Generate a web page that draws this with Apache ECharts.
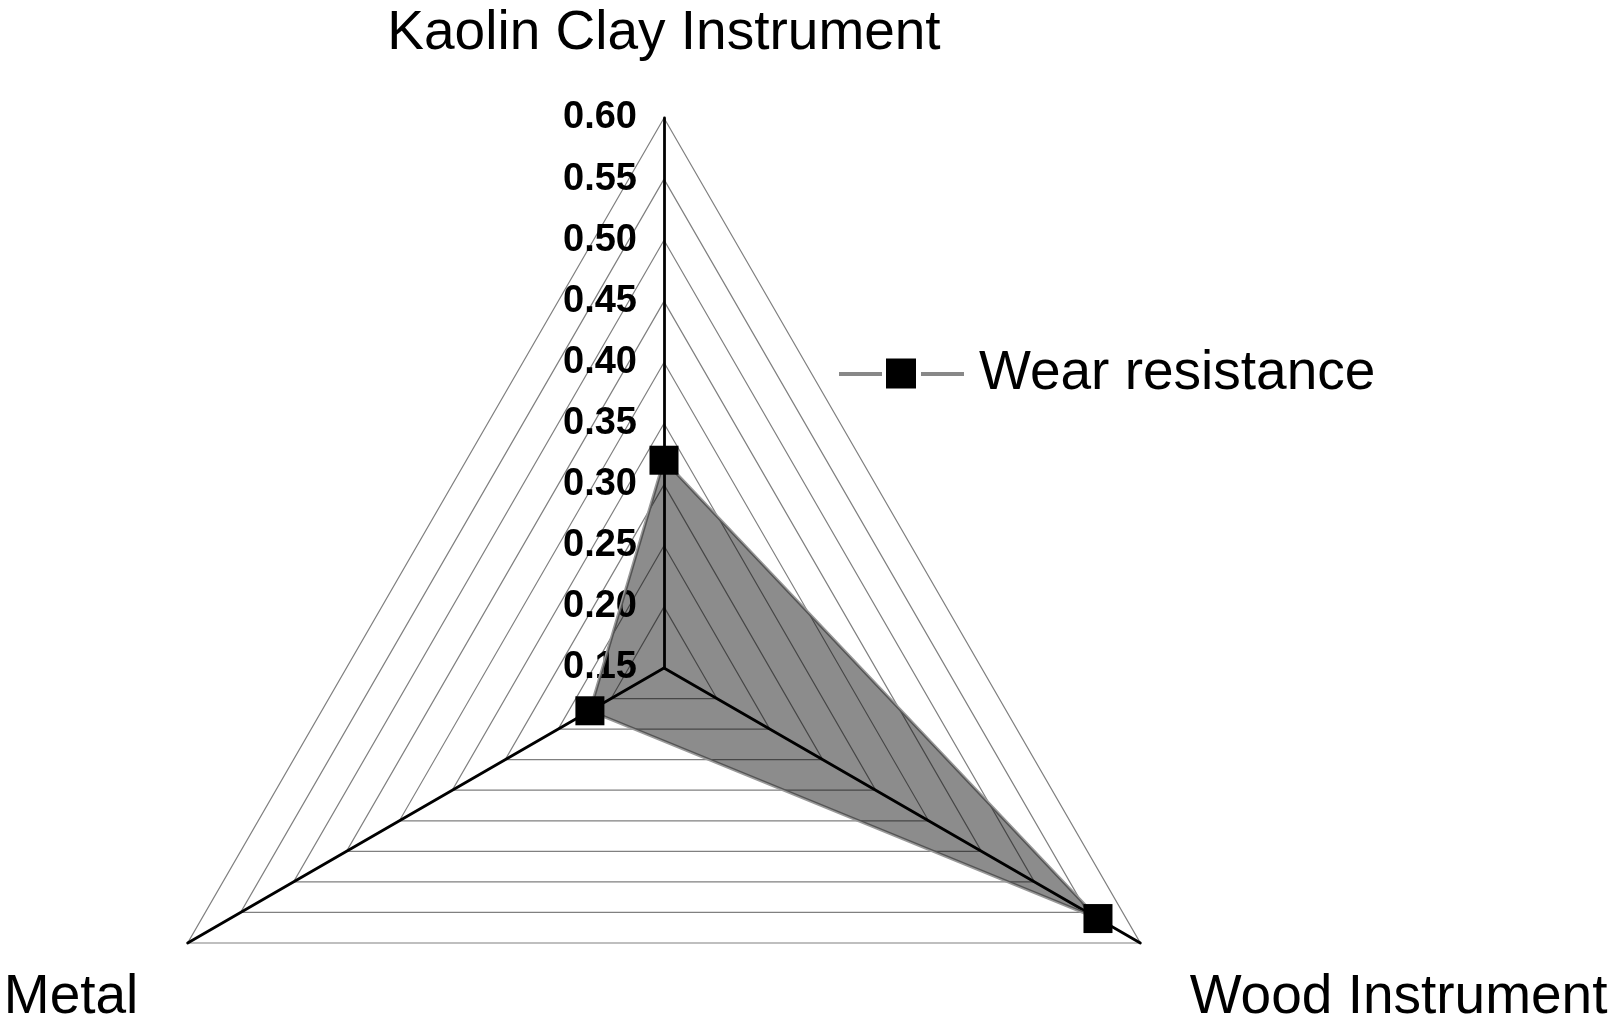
<!DOCTYPE html>
<html>
<head>
<meta charset="utf-8">
<script src="https://cdn.jsdelivr.net/npm/echarts@6/dist/echarts.min.js"></script>
<style>
html,body{margin:0;padding:0;background:#fff;}
#chart{width:1614px;height:1030px;}
</style>
</head>
<body>
<div id="chart"></div>
<script>
var categories = ['Kaolin Clay Instrument', 'Metal', 'Wood Instrument'];
var seriesName = 'Wear resistance';
var wearValues = [0.32, 0.22, 0.56];
var axisMin = 0.15;
var axisMax = 0.60;
var axisStep = 0.05;

var chart = echarts.init(document.getElementById('chart'));
var FONT = 'Liberation Sans, Arial, sans-serif';

var option = {
  backgroundColor: '#ffffff',
  animation: false,
  legend: {
    data: [seriesName],
    left: 881,
    top: 341,
    icon: 'rect',
    itemWidth: 30,
    itemHeight: 30,
    textStyle: {
      fontFamily: FONT,
      fontSize: 55,
      color: '#000',
      padding: [0, 0, 0, 58]
    }
  },
  graphic: [
    {type: 'line', shape: {x1: 839, y1: 374, x2: 882, y2: 374}, style: {stroke: '#888', lineWidth: 4}},
    {type: 'line', shape: {x1: 921, y1: 374, x2: 964, y2: 374}, style: {stroke: '#888', lineWidth: 4}}
  ],
  radar: {
    center: [664, 668],
    radius: 550,
    shape: 'polygon',
    startAngle: 90,
    splitNumber: Math.round((axisMax - axisMin) / axisStep),
    nameGap: 57,
    axisName: {
      color: '#000',
      fontFamily: FONT,
      fontSize: 55,
      formatter: function (name) {
        return name === categories[0] ? '{t|' + name + '}' : '{b|' + name + '}';
      },
      rich: {
        t: {fontFamily: FONT, fontSize: 55, color: '#000'},
        b: {fontFamily: FONT, fontSize: 55, color: '#000', padding: [52, 0, 0, 0]}
      }
    },
    indicator: categories.map(function (c, i) {
      var ind = {name: c, min: axisMin, max: axisMax};
      if (i !== 0) ind.axisLabel = {show: false};
      return ind;
    }),
    axisLine: {lineStyle: {color: '#000', width: 2.8}},
    axisTick: {show: false},
    splitLine: {lineStyle: {color: '#808080', width: 1.2}},
    splitArea: {show: false},
    axisLabel: {
      show: true,
      margin: 27,
      fontFamily: FONT,
      fontSize: 38,
      fontWeight: 'bold',
      color: '#000',
      formatter: function (v) { return v.toFixed(2); }
    }
  },
  series: [{
    type: 'radar',
    name: seriesName,
    symbol: 'rect',
    symbolSize: 29,
    itemStyle: {color: '#000'},
    lineStyle: {color: '#9a9a9a', width: 3},
    areaStyle: {color: '#000', opacity: 0.45},
    data: [{name: seriesName, value: wearValues}]
  }]
};
chart.setOption(option);
</script>
</body>
</html>
